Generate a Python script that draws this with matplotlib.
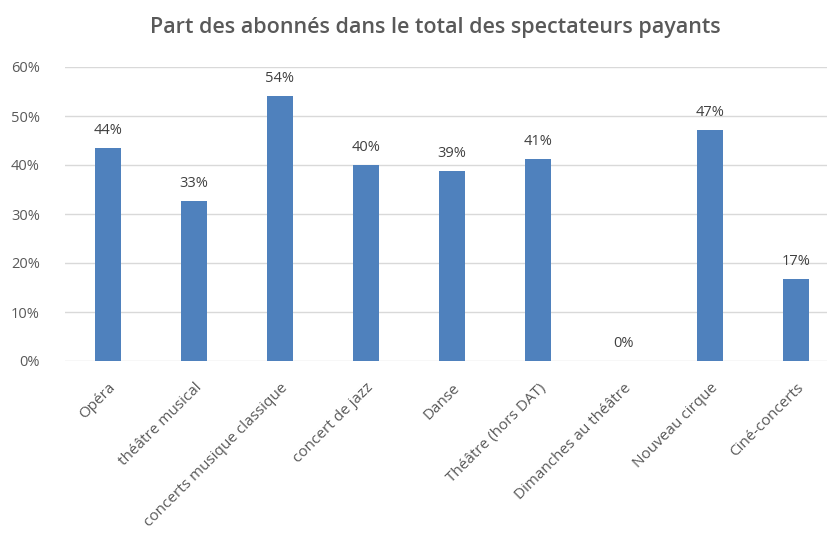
import numpy as np
import matplotlib.pyplot as plt

# data
categories = ['Opéra', 'théâtre musical', 'concerts musique classique',
              'concert de jazz', 'Danse', 'Théâtre (hors DAT)',
              'Dimanches au théâtre', 'Nouveau cirque', 'Ciné-concerts']
values = [0.435, 0.327, 0.541, 0.401, 0.388, 0.413, 0.0, 0.471, 0.167]
yticks = [0, 0.1, 0.2, 0.3, 0.4, 0.5, 0.6]
title = 'Part des abonnés dans le total des spectateurs payants'

plt.rcParams['font.family'] = ['Open Sans', 'DejaVu Sans']

fig = plt.figure(figsize=(8.28, 5.35), dpi=100)
ax = fig.add_axes([65/828, 174/535, 774/828, 294/535])

x = np.arange(len(categories))
ax.bar(x, values, width=0.31, color='#4F81BD', zorder=3)

for xi, v in zip(x, values):
	ax.annotate(f'{v:.0%}', (xi, v), xytext=(0, 7), textcoords='offset points',
		ha='center', va='bottom', fontsize=10.5, color='#404040')

ax.set_xlim(-0.5, len(categories) - 0.5)
ax.set_ylim(0, 0.6)
ax.set_yticks(yticks)
ax.set_yticklabels([f'{t:.0%}' for t in yticks])
ax.grid(axis='y', color='#D9D9D9', linewidth=1, zorder=0)
for s in ax.spines.values():
	s.set_visible(False)
ax.tick_params(axis='both', length=0, labelsize=10.5, colors='#595959')
ax.tick_params(axis='y', pad=18)
ax.set_xticks(x)
ax.set_xticklabels(categories, rotation=45, ha='right', rotation_mode='anchor',
	fontsize=11)
ax.tick_params(axis='x', pad=14)

fig.text(435/828, 1 - 28/535, title, ha='center', va='center',
	fontsize=15.5, fontweight='semibold', color='#595959')

fig.savefig('out.png', dpi=100)
